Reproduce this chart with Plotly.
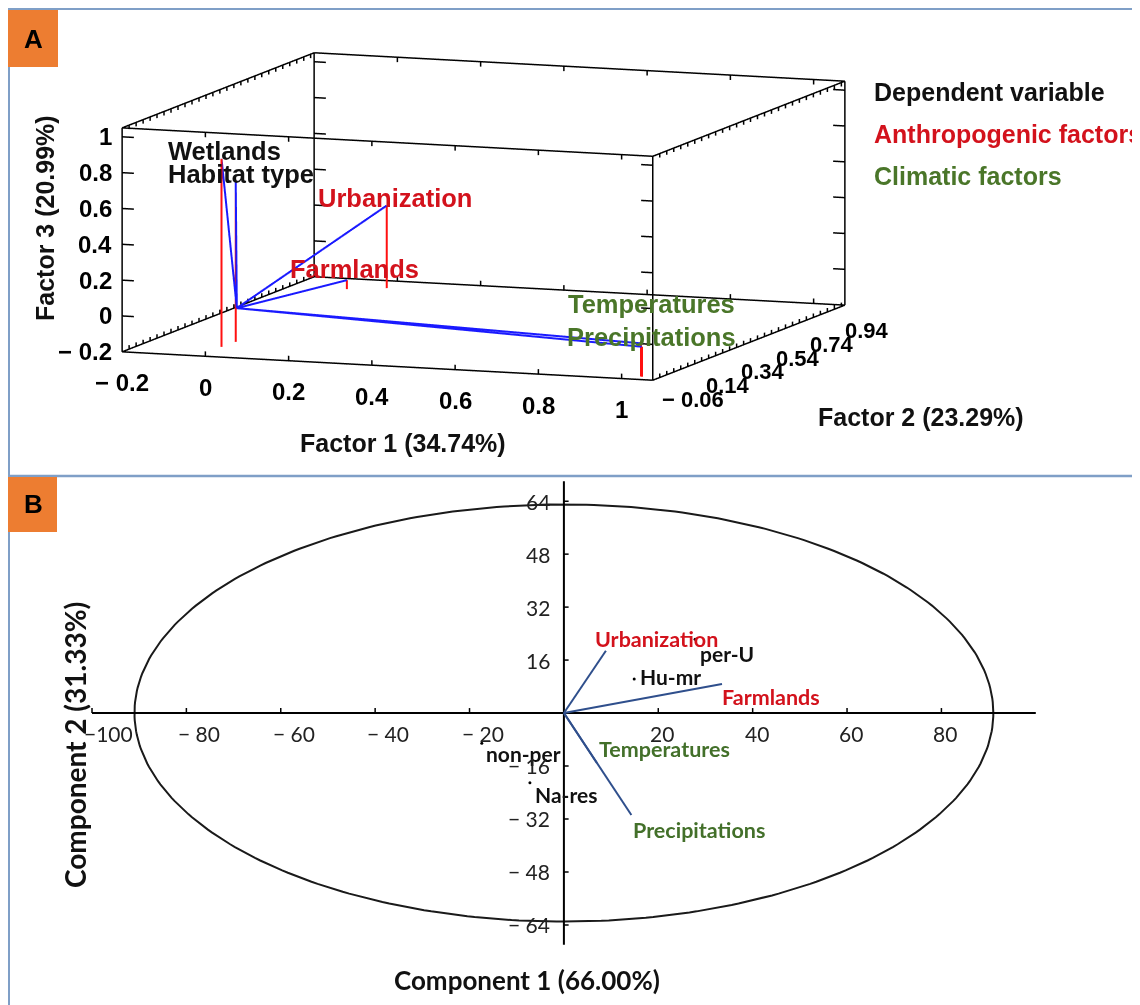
import numpy as np
import plotly.graph_objects as go

# The page body has an 8px margin, so the figure is 8px smaller and all
# reference pixel positions are shifted by -8.
OFF = 8
W, H = 1140 - OFF, 1005 - OFF

# ---------------- Panel A : 3-D factor loadings ----------------
a_names   = ["Wetlands", "Habitat type", "Urbanization", "Farmlands", "Temperatures", "Precipitations"]
a_factor1 = [-0.017, -0.014, 0.015, -0.064, 1.030, 1.033]
a_factor2 = [0.073, 0.147, 0.943, 0.903, -0.020, -0.022]
a_factor3 = [0.850, 0.694, 0.261, -0.150, -0.015, -0.033]
a_groups  = ["dep", "dep", "anth", "anth", "clim", "clim"]
a_origin  = [0.0, 0.12, 0.0]

a_range_f1 = [-0.2, 1.075]
a_range_f2 = [-0.06, 1.04]
a_range_f3 = [-0.2, 1.05]
a_ticks_f1 = [-0.2, 0, 0.2, 0.4, 0.6, 0.8, 1]
a_ticktext_f1 = ["− 0.2", "0", "0.2", "0.4", "0.6", "0.8", "1"]
a_ticks_f2 = [-0.06, 0.14, 0.34, 0.54, 0.74, 0.94]
a_ticktext_f2 = ["− 0.06", "0.14", "0.34", "0.54", "0.74", "0.94"]
a_ticks_f3 = [-0.2, 0, 0.2, 0.4, 0.6, 0.8, 1]
a_ticktext_f3 = ["− 0.2", "0", "0.2", "0.4", "0.6", "0.8", "1"]
a_minor_f2 = list(np.arange(-0.06, 1.04, 0.04))

a_titles = ["Factor 1 (34.74%)", "Factor 2 (23.29%)", "Factor 3 (20.99%)"]
legend_labels = ["Dependent variable", "Anthropogenic factors", "Climatic factors"]

# ---------------- Panel B : biplot ----------------
b_vec_names = ["Urbanization", "Farmlands", "Temperatures", "Precipitations"]
b_vec_c1 = [8.9, 33.5, 7.0, 14.3]
b_vec_c2 = [18.8, 8.8, -15.1, -30.8]
b_vec_groups = ["anth", "anth", "clim", "clim"]
b_pt_names = ["per-U", "Hu-mr", "non-per", "Na-res"]
b_pt_c1 = [27.8, 14.9, -17.4, -7.2]
b_pt_c2 = [22.3, 10.3, -9.1, -21.1]
b_xticks = [-100, -80, -60, -40, -20, 20, 40, 60, 80]
b_xticktext = ["−100", "− 80", "− 60", "− 40", "− 20", "20", "40", "60", "80"]
b_yticks = [64, 48, 32, 16, -16, -32, -48, -64]
b_yticktext = ["64", "48", "32", "16", "− 16", "− 32", "− 48", "− 64"]
b_axis_c1 = [-100, 100]
b_axis_c2 = [-70, 70]
b_ellipse_rx, b_ellipse_ry = 91.0, 63.0
b_titles = ["Component 1 (66.00%)", "Component 2 (31.33%)"]

# ---------------- styles ----------------
COL = {"dep": "#111111", "anth": "#d3121c", "clim": "#4a7629"}
COLB = {"anth": "#d3121c", "clim": "#43702a"}
FONT_A = "Liberation Sans, Arial, sans-serif"
FONT_B = "Lato, Noto Sans, sans-serif"
a_lab_shift = [(3, 8), (5, 8), (8, 8), (8, 11), (10, 39), (10, 10)]
b_vec_shift = [(-13, 12), (-2, -13), (0, 14), (0, -15)]
b_pt_shift = [(3, -14), (4, 2), (2, -10), (3, -12)]
PADF = 0.004          # range padding so that the box edges are not clipped
ZOOM = 2.74 * (1 + 2 * PADF)
EYE_DIST = 4.0


def px(x):
    return (x - OFF) / W


def py(y):
    return 1 - (y - OFF) / H


def padded(r):
    p = PADF * (r[1] - r[0])
    return [r[0] - p, r[1] + p]


fig = go.Figure()

# ---- Panel A box edges and ticks ----
x0, x1 = a_range_f1
y0, y1 = a_range_f2
z0, z1 = a_range_f3
ex, ey, ez = [], [], []


def seg(p, q):
    ex.extend([p[0], q[0], None])
    ey.extend([p[1], q[1], None])
    ez.extend([p[2], q[2], None])


for yy in (y0, y1):
    for zz in (z0, z1):
        seg((x0, yy, zz), (x1, yy, zz))
for xx in (x0, x1):
    for zz in (z0, z1):
        seg((xx, y0, zz), (xx, y1, zz))
for xx in (x0, x1):
    for yy in (y0, y1):
        seg((xx, yy, z0), (xx, yy, z1))

tlx = 0.022 * (x1 - x0)
tlz = 0.022 * (z1 - z0)
for xx, yy, d in [(x0, y0, 1), (x0, y1, 1), (x1, y0, -1), (x1, y1, -1)]:
    for t in a_ticks_f3:
        seg((xx, yy, t), (xx + d * tlx, yy, t))
for yy, zz, d in [(y0, z1, -1), (y1, z1, -1), (y1, z0, 1), (y0, z0, 1)]:
    for t in a_ticks_f1:
        seg((t, yy, zz), (t, yy, zz + d * tlz))
for xx, zz, d in [(x0, z1, -1), (x0, z0, 1), (x1, z1, -1), (x1, z0, 1)]:
    for t in a_minor_f2:
        seg((xx, t, zz), (xx, t, zz + d * tlz * 0.8))

fig.add_trace(go.Scatter3d(x=ex, y=ey, z=ez, mode="lines",
                           line=dict(color="black", width=3),
                           hoverinfo="skip", showlegend=False, connectgaps=False))

vx, vy, vz, dx, dy, dz = [], [], [], [], [], []
for f1, f2, f3 in zip(a_factor1, a_factor2, a_factor3):
    vx += [a_origin[0], f1, None]
    vy += [a_origin[1], f2, None]
    vz += [a_origin[2], f3, None]
    dx += [f1, f1, None]
    dy += [f2, f2, None]
    dz += [f3, z0, None]
fig.add_trace(go.Scatter3d(x=dx, y=dy, z=dz, mode="lines",
                           line=dict(color="#ff1010", width=4),
                           hoverinfo="skip", showlegend=False, connectgaps=False))
fig.add_trace(go.Scatter3d(x=vx, y=vy, z=vz, mode="lines",
                           line=dict(color="#1a1aff", width=4),
                           hoverinfo="skip", showlegend=False, connectgaps=False))

scene_ann = []
for name, f1, f2, f3, g, (sx, sy) in zip(a_names, a_factor1, a_factor2, a_factor3, a_groups, a_lab_shift):
    scene_ann.append(dict(x=f1, y=f2, z=f3, text="<b>%s</b>" % name, showarrow=False,
                          xanchor="center", yanchor="middle", xshift=sx, yshift=sy,
                          font=dict(family=FONT_A, size=25.5, color=COL[g])))
for t, s in zip(a_ticks_f3, a_ticktext_f3):
    scene_ann.append(dict(x=x0, y=y0, z=t, text="<b>%s</b>" % s, showarrow=False,
                          xanchor="right", yanchor="middle", xshift=-8, yshift=0,
                          font=dict(family=FONT_A, size=24, color="black")))
for t, s in zip(a_ticks_f1, a_ticktext_f1):
    scene_ann.append(dict(x=t, y=y0, z=z0, text="<b>%s</b>" % s, showarrow=False,
                          xanchor="center", yanchor="middle", xshift=0, yshift=-31,
                          font=dict(family=FONT_A, size=24, color="black")))
for t, s in zip(a_ticks_f2, a_ticktext_f2):
    scene_ann.append(dict(x=x1, y=t, z=z0, text="<b>%s</b>" % s, showarrow=False,
                          xanchor="center", yanchor="middle", xshift=40, yshift=-19,
                          font=dict(family=FONT_A, size=22, color="black")))

hidden = dict(showgrid=False, showline=False, zeroline=False, showticklabels=False,
              showbackground=False, showspikes=False, ticks="", title=dict(text=""))

dvec = np.array([0.370, -1.0, 0.1559])
eye = EYE_DIST * dvec

# ---- Panel B ----
th = np.linspace(0, 2 * np.pi, 361)
fig.add_trace(go.Scatter(x=b_ellipse_rx * np.cos(th), y=b_ellipse_ry * np.sin(th), mode="lines",
                         line=dict(color="#1a1a1a", width=2), hoverinfo="skip", showlegend=False))
fig.add_trace(go.Scatter(x=[b_axis_c1[0], b_axis_c1[1], None, 0, 0],
                         y=[0, 0, None, b_axis_c2[0], b_axis_c2[1]], mode="lines",
                         line=dict(color="black", width=2), hoverinfo="skip", showlegend=False))
tx, ty = [], []
for t in b_xticks:
    tx += [t, t, None]
    ty += [0, 1.5, None]
for t in b_yticks:
    tx += [0, 1.0, None]
    ty += [t, t, None]
fig.add_trace(go.Scatter(x=tx, y=ty, mode="lines", line=dict(color="black", width=1.5),
                         hoverinfo="skip", showlegend=False))
bx, by = [], []
for c1, c2 in zip(b_vec_c1, b_vec_c2):
    bx += [0, c1, None]
    by += [0, c2, None]
fig.add_trace(go.Scatter(x=bx, y=by, mode="lines", line=dict(color="#2f4f8c", width=2),
                         hoverinfo="skip", showlegend=False))
fig.add_trace(go.Scatter(x=b_pt_c1, y=b_pt_c2, mode="markers",
                         marker=dict(color="black", size=3), hoverinfo="skip", showlegend=False))

ann = []
for name, c1, c2, g, (sx, sy) in zip(b_vec_names, b_vec_c1, b_vec_c2, b_vec_groups, b_vec_shift):
    ann.append(dict(x=c1, y=c2, xref="x", yref="y", text="<b>%s</b>" % name, showarrow=False,
                    xanchor="left", yanchor="middle", xshift=sx, yshift=sy,
                    font=dict(family=FONT_B, size=21.5, color=COLB[g])))
for name, c1, c2, (sx, sy) in zip(b_pt_names, b_pt_c1, b_pt_c2, b_pt_shift):
    ann.append(dict(x=c1, y=c2, xref="x", yref="y", text="<b>%s</b>" % name, showarrow=False,
                    xanchor="left", yanchor="middle", xshift=sx, yshift=sy,
                    font=dict(family=FONT_B, size=21, color="#111111")))
for t, s in zip(b_xticks, b_xticktext):
    ann.append(dict(x=t, y=0, xref="x", yref="y", text=s, showarrow=False,
                    xanchor="left", yanchor="middle", xshift=-10, yshift=-20,
                    font=dict(family=FONT_B, size=21, color="#222222")))
for t, s in zip(b_yticks, b_yticktext):
    ann.append(dict(x=0, y=t, xref="x", yref="y", text=s, showarrow=False,
                    xanchor="right", yanchor="middle", xshift=-12, yshift=0,
                    font=dict(family=FONT_B, size=21, color="#222222")))


def paper_text(x, y, text, family, size, color="#111111", angle=0, xanchor="center"):
    return dict(x=px(x), y=py(y), xref="paper", yref="paper", text=text, showarrow=False,
                xanchor=xanchor, yanchor="middle", textangle=angle,
                font=dict(family=family, size=size, color=color))


ann.append(paper_text(527, 980, "<b>%s</b>" % b_titles[0], FONT_B, 26))
ann.append(paper_text(75, 745, "<b>%s</b>" % b_titles[1], FONT_B, 28, angle=-90))
ann.append(paper_text(403, 443, "<b>%s</b>" % a_titles[0], FONT_A, 25))
ann.append(paper_text(921, 417, "<b>%s</b>" % a_titles[1], FONT_A, 25))
ann.append(paper_text(45, 218, "<b>%s</b>" % a_titles[2], FONT_A, 25, angle=-90))
for i, (lab, g) in enumerate(zip(legend_labels, ["dep", "anth", "clim"])):
    ann.append(paper_text(872, 92 + 42 * i, "<b>%s</b>" % lab, FONT_A, 25, color=COL[g], xanchor="left"))
ann.append(paper_text(33, 39, "<b>A</b>", FONT_A, 26, color="black"))
ann.append(paper_text(33, 504, "<b>B</b>", FONT_A, 26, color="black"))

frame = "#7f9fc7"
shapes = [
    dict(type="line", xref="paper", yref="paper", x0=px(8), x1=1, y0=py(9), y1=py(9), line=dict(color=frame, width=2)),
    dict(type="line", xref="paper", yref="paper", x0=px(9), x1=px(9), y0=0, y1=py(9), line=dict(color=frame, width=2)),
    dict(type="line", xref="paper", yref="paper", x0=px(8), x1=1, y0=py(476), y1=py(476), line=dict(color=frame, width=2.5)),
    dict(type="rect", xref="paper", yref="paper", x0=px(8), x1=px(58), y0=py(67), y1=py(10),
         fillcolor="#ed7d31", line=dict(width=0)),
    dict(type="rect", xref="paper", yref="paper", x0=px(8), x1=px(57), y0=py(532), y1=py(477),
         fillcolor="#ed7d31", line=dict(width=0)),
]

fig.update_layout(
    width=W, height=H, margin=dict(l=0, r=0, t=0, b=0),
    paper_bgcolor="white", plot_bgcolor="white", hovermode=False, showlegend=False,
    scene=dict(
        domain=dict(x=[px(63), px(904)], y=[py(423), py(10)]),
        xaxis=dict(range=padded(a_range_f1), **hidden),
        yaxis=dict(range=padded(a_range_f2), **hidden),
        zaxis=dict(range=padded(a_range_f3), **hidden),
        aspectmode="manual",
        aspectratio=dict(x=1.0 * ZOOM, y=0.978 * ZOOM, z=0.400 * ZOOM),
        camera=dict(eye=dict(x=eye[0], y=eye[1], z=eye[2]), up=dict(x=0, y=0, z=1),
                    center=dict(x=0, y=0, z=0), projection=dict(type="orthographic")),
        bgcolor="white",
        annotations=scene_ann,
    ),
    xaxis=dict(range=[-105, 105], domain=[px(68.4), px(1059.4)], visible=False, fixedrange=True),
    yaxis=dict(range=[-76, 72], domain=[py(964.6), py(474.7)], visible=False, fixedrange=True),
    annotations=ann,
    shapes=shapes,
)

fig.write_html("out.html")
